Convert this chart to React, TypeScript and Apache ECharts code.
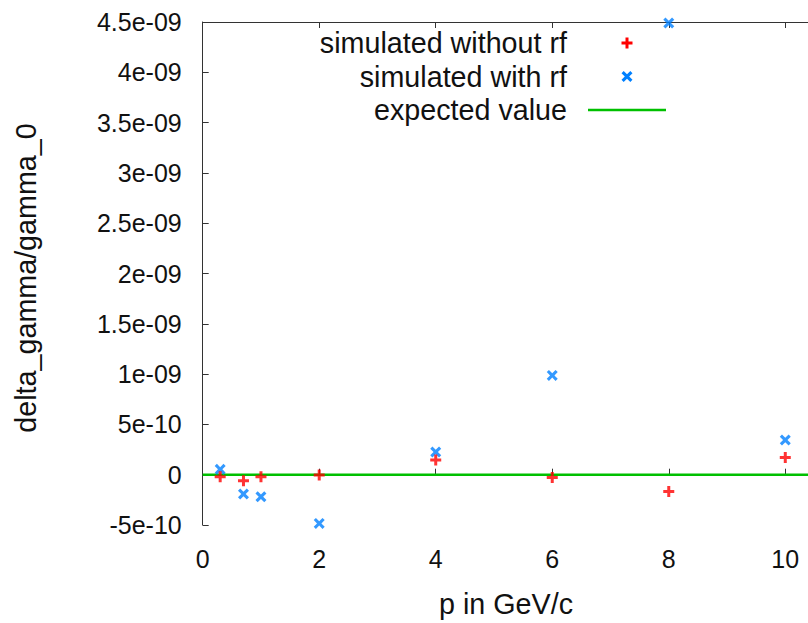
import React, { useEffect, useRef } from "react";
import * as echarts from "echarts";

const pValues = [0.3, 0.7, 1, 2, 4, 6, 8, 10];
const withoutRf = [-2e-11, -6e-11, -2e-11, -3e-12, 1.46e-10, -2.7e-11, -1.66e-10, 1.72e-10];
const withRf = [5.3e-11, -1.92e-10, -2.19e-10, -4.84e-10, 2.26e-10, 9.87e-10, 4.49e-9, 3.45e-10];
const X_MAX = 10.39;
const expectedX = [0, X_MAX];
const expectedY = [0, 0];
const seriesNames = ["simulated without rf", "simulated with rf", "expected value"];
const xTitle = "p in GeV/c";
const yTitle = "delta_gamma/gamma_0";

const RED = "#ff0000";
const BLUE = "#0080ff";
const GREEN = "#00c000";
const FONT = "'Liberation Sans', Arial, Helvetica, sans-serif";

const PLUS_PTS = [[4, 0], [7, 0], [7, 4], [11, 4], [11, 7], [7, 7], [7, 11], [4, 11], [4, 7], [0, 7], [0, 4], [4, 4]];
const CROSS_PTS = [[0, 2.2], [2.2, 0], [5.5, 3.3], [8.8, 0], [11, 2.2], [7.7, 5.5], [11, 8.8], [8.8, 11], [5.5, 7.7], [2.2, 11], [0, 8.8], [3.3, 5.5]];
const toPath = (pts: number[][]) =>
  "path://M" + pts.map((p) => p[0] + "," + p[1]).join("L") + "Z";
const PLUS = toPath(PLUS_PTS);
const CROSS = toPath(CROSS_PTS);

function fmt(v: number): string {
  if (Math.abs(v) < 1e-15) return "0";
  const s = Number(v.toPrecision(6)).toExponential();
  return s.replace(/e([+-])(\d)$/, "e$10$2");
}

export default function App() {
  const ref = useRef<HTMLDivElement>(null);
  useEffect(() => {
    if (!ref.current) return;
    const chart = echarts.init(ref.current, null, { renderer: "svg" });
    const axisLine = { lineStyle: { color: "#333", width: 1 } };
    const legendRight = 567;
    const markerX = 627;
    const rows = [43, 76.5, 110];
    const tick = { show: true, inside: true, length: 6, lineStyle: { color: "#333" } };
    chart.setOption({
      animation: false,
      backgroundColor: "#ffffff",
      grid: { left: 202.7, top: 22, right: 0, height: 503, containLabel: false },
      xAxis: [
        {
          type: "value",
          min: 0,
          max: X_MAX,
          interval: 2,
          axisLine: { show: true, ...axisLine },
          axisTick: tick,
          axisLabel: { fontSize: 25, color: "#111", fontFamily: FONT, margin: 21, showMaxLabel: false },
          splitLine: { show: false },
        },
        {
          type: "value",
          position: "top",
          min: 0,
          max: X_MAX,
          interval: 2,
          axisLine: { show: true, ...axisLine },
          axisTick: tick,
          axisLabel: { show: false },
          splitLine: { show: false },
        },
      ],
      yAxis: [
        {
          type: "value",
          min: -5e-10,
          max: 4.5e-9,
          interval: 5e-10,
          axisLine: { show: true, ...axisLine },
          axisTick: tick,
          axisLabel: {
            fontSize: 25,
            color: "#111",
            fontFamily: FONT,
            margin: 21,
            formatter: (v: number) => fmt(v),
          },
          splitLine: { show: false },
        },
      ],
      series: [
        {
          name: seriesNames[2],
          type: "line",
          data: expectedX.map((x, i) => [x, expectedY[i]]),
          showSymbol: false,
          lineStyle: { color: GREEN, width: 2.5 },
          z: 1,
        },
        {
          name: seriesNames[0],
          type: "scatter",
          data: pValues.map((p, i) => [p, withoutRf[i]]),
          symbol: PLUS,
          symbolSize: 11,
          itemStyle: { color: RED },
          z: 3,
        },
        {
          name: seriesNames[1],
          type: "scatter",
          data: pValues.map((p, i) => [p, withRf[i]]),
          symbol: CROSS,
          symbolSize: 11,
          itemStyle: { color: BLUE },
          clip: false,
          z: 2,
        },
      ],
      graphic: [
        ...seriesNames.map((n, i) => ({
          type: "text",
          x: legendRight,
          y: rows[i],
          style: {
            text: n,
            align: "right",
            verticalAlign: "middle",
            fontSize: 28.7,
            fontFamily: FONT,
            fill: "#111",
          },
        })),
        {
          type: "polygon",
          x: markerX - 5.5,
          y: rows[0] - 5.5,
          shape: { points: PLUS_PTS },
          style: { fill: RED },
        },
        {
          type: "polygon",
          x: markerX - 5.5,
          y: rows[1] - 5.5,
          shape: { points: CROSS_PTS },
          style: { fill: BLUE },
        },
        {
          type: "line",
          shape: { x1: 588, y1: rows[2], x2: 666, y2: rows[2] },
          style: { stroke: GREEN, lineWidth: 2.5 },
        },
        {
          type: "text",
          x: 506,
          y: 604,
          style: {
            text: xTitle,
            align: "center",
            verticalAlign: "middle",
            fontSize: 28.7,
            fontFamily: FONT,
            fill: "#111",
          },
        },
        {
          type: "text",
          x: 26,
          y: 278,
          rotation: Math.PI / 2,
          style: {
            text: yTitle,
            align: "center",
            verticalAlign: "middle",
            fontSize: 28.7,
            fontFamily: FONT,
            fill: "#111",
          },
        },
      ],
    });
    return () => chart.dispose();
  }, []);
  return <div ref={ref} style={{ width: 808, height: 623, position: "absolute", left: 0, top: 0 }} />;
}
